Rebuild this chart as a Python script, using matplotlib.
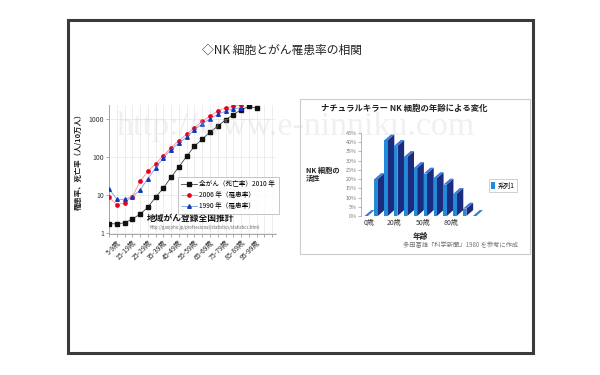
import numpy as np
import matplotlib
matplotlib.use('Agg')
import matplotlib.pyplot as plt
from matplotlib.patches import Rectangle, Polygon, Patch

plt.rcParams['font.family'] = ['Noto Sans CJK JP', 'DejaVu Sans']

# 左のグラフ: 年齢階級別の罹患率・死亡率 (人/10万人)
age_groups = ['0-4歳', '5-9歳', '10-14歳', '15-19歳', '20-24歳', '25-29歳',
              '30-34歳', '35-39歳', '40-44歳', '45-49歳', '50-54歳', '55-59歳',
              '60-64歳', '65-69歳', '70-74歳', '75-79歳', '80-84歳', '85-89歳',
              '90-94歳', '95-99歳']
death_2010 = [1.8, 1.8, 1.9, 2.4, 3.2, 4.9, 8.9, 15.6, 30, 56, 106, 195,
              298, 455, 654, 957, 1320, 1760, 2150, 1950]
inc_2006 = [8.9, 5.7, 6.4, 9.2, 23.4, 43, 67, 111, 180, 275, 403, 591,
            886, 1200, 1620, 1990, 2150, 2380]
inc_1990 = [15, 7.9, 7.9, 9.2, 13.8, 27.5, 52, 98, 159, 233, 336, 524,
            754, 1020, 1330, 1620, 1870, 1990]
series_names = ['全がん（死亡率）2010 年', '2006 年（罹患率）', '1990 年（罹患率）']

# 右のグラフ: NK 細胞の活性 (%)
nk_ages = ['0歳', '5歳', '10歳', '20歳', '30歳', '40歳', '50歳', '60歳',
           '70歳', '80歳', '90歳', '100歳']
nk_activity = [0, 20, 41, 38, 32, 26, 23, 20.5, 17, 12, 4, 0]
nk_tick_labels = ['0歳', '20歳', '50歳', '80歳']


def fx(x):
    return x / 600


def fy(y):
    return 1 - y / 375


fig = plt.figure(figsize=(6, 3.75), dpi=100)

# 外枠
fig.patches.append(Rectangle((fx(68.3), fy(353)), fx(533.3) - fx(68.3), fy(20) - fy(353),
                             transform=fig.transFigure, fill=False,
                             edgecolor='#3a3a3a', linewidth=2.2))
fig.text(fx(282), fy(50), '◇NK 細胞とがん罹患率の相関', ha='center', va='center',
         fontsize=8.5, color='#222222')

# ---- 左のグラフ ----
ax = fig.add_axes([fx(109), fy(234), fx(276) - fx(109), fy(105) - fy(234)])
x = np.arange(len(age_groups))
ax.plot(x, death_2010, color='#444444', lw=0.6, marker='s', ms=2.4,
        mfc='#111111', mec='#111111', label=series_names[0], zorder=3)
ax.plot(x[:len(inc_2006)], inc_2006, color='#ff8a8a', lw=0.6, marker='o', ms=2.4,
        mfc='#e8001c', mec='#e8001c', label=series_names[1], zorder=3)
ax.plot(x[:len(inc_1990)], inc_1990, color='#7d9ce0', lw=0.6, marker='^', ms=2.6,
        mfc='#1238c0', mec='#1238c0', label=series_names[2], zorder=3)
ax.set_yscale('log')
ax.set_ylim(0.97, 2350)
ax.set_xlim(0, 21.5)
ax.set_yticks([1, 10, 100, 1000], ['1', '10', '100', '1000'])
ax.yaxis.set_minor_locator(matplotlib.ticker.NullLocator())
ax.set_xticks(np.arange(22))
ax.set_xticklabels([age_groups[i] if (i < len(age_groups) and i % 2 == 1) else ''
                    for i in range(22)], rotation=45, ha='right',
                   rotation_mode='anchor', fontsize=5, color='#222222')
ax.tick_params(axis='y', labelsize=5, length=2, width=0.5, color='#888888',
               labelcolor='#333333', pad=1.5)
ax.tick_params(axis='x', length=2, width=0.5, color='#888888', pad=1.5)
ax.grid(True, color='#e6e6e6', lw=0.5)
ax.set_axisbelow(True)
for s in ['top', 'right']:
    ax.spines[s].set_visible(False)
for s in ['left', 'bottom']:
    ax.spines[s].set_color('#999999')
    ax.spines[s].set_linewidth(0.6)
leg = ax.legend(loc='upper left', bbox_to_anchor=(0.413, 0.442), fontsize=4.8,
                frameon=True, fancybox=False, edgecolor='#aaaaaa',
                handlelength=2.3, labelspacing=0.45, borderpad=0.5,
                handletextpad=0.4, borderaxespad=0)
leg.get_frame().set_linewidth(0.6)
ax.text(0.49, 0.124, '地域がん登録全国推計', transform=ax.transAxes, ha='center',
        va='center', fontsize=6.3, fontweight='bold', color='#111111')
ax.text(0.57, 0.047, 'http://ganjoho.jp/professional/statistics/statistics.html',
        transform=ax.transAxes, ha='center', va='center', fontsize=3.1,
        color='#666666')
fig.text(fx(78), fy(160), '罹患率、死亡率（人/10万人）', rotation=90, ha='center',
         va='center', fontsize=5.3, fontweight='bold', color='#222222')

# ---- 右のグラフ ----
fig.patches.append(Rectangle((fx(300), fy(254)), fx(530) - fx(300), fy(99) - fy(254),
                             transform=fig.transFigure, fill=False,
                             edgecolor='#cccccc', linewidth=0.8))
fig.text(fx(404), fy(108), 'ナチュラルキラー NK 細胞の年齢による変化', ha='center',
         va='center', fontsize=6, fontweight='bold', color='#222222')

bx = fig.add_axes([fx(361), fy(216), fx(489.7) - fx(361), fy(133) - fy(216)])
bx.set_xlim(-0.86, 12.2)
bx.set_ylim(0, 45)
w, dx, dy = 0.34, 0.68, 3.2
front_c, side_c, top_c = '#238ad8', '#1b2c7e', '#3a78d4'
pos = np.arange(len(nk_ages)) - 0.5
bx.bar(pos, nk_activity, width=w, align='edge', color=front_c, zorder=3,
       clip_on=False)
for x0, v in zip(pos, nk_activity):
    x1 = x0 + w
    if v > 0:
        bx.add_patch(Polygon([(x1, 0), (x1 + dx, dy), (x1 + dx, v + dy), (x1, v)],
                             closed=True, facecolor=side_c, edgecolor='none',
                             zorder=2, clip_on=False))
    bx.add_patch(Polygon([(x0, v), (x1, v), (x1 + dx, v + dy), (x0 + dx, v + dy)],
                         closed=True, facecolor=top_c, edgecolor='none',
                         zorder=4, clip_on=False))
bx.set_yticks(np.arange(0, 46, 5), [f'{t}%' for t in range(0, 46, 5)])
bx.set_xticks([0, 2.5, 5.4, 8.3], nk_tick_labels)
bx.tick_params(axis='y', labelsize=3.9, length=2, width=0.5, color='#999999',
               labelcolor='#777777', pad=1)
bx.tick_params(axis='x', labelsize=5, length=0, labelcolor='#333333', pad=2.5)
for s in ['top', 'right', 'bottom']:
    bx.spines[s].set_visible(False)
bx.spines['left'].set_color('#aaaaaa')
bx.spines['left'].set_linewidth(0.6)
bx.patch.set_alpha(0)

leg2 = bx.legend(handles=[Patch(facecolor=front_c)], labels=['系列1'],
                 loc='upper left', bbox_to_anchor=(fx(489), fy(179.5)),
                 bbox_transform=fig.transFigure, fontsize=4.8, frameon=True,
                 fancybox=False, edgecolor='#bbbbbb', handlelength=0.6,
                 handleheight=1.1, handletextpad=0.3, borderpad=0.35,
                 borderaxespad=0)
leg2.get_frame().set_linewidth(0.6)

fig.text(fx(306), fy(174), 'NK 細胞の\n活性', ha='left', va='center',
         fontsize=5.2, fontweight='bold', color='#222222', linespacing=1.15)
fig.text(fx(420), fy(236), '年齢', ha='center', va='center', fontsize=5.5,
         fontweight='bold', color='#222222')
fig.text(fx(461), fy(245), '多田富雄「科学新聞」1980 を参考に作成', ha='center',
         va='center', fontsize=4.5, color='#777777')

# 透かし
fig.text(fx(296), fy(135), 'http://www.e-ninniku.com', ha='center', va='baseline',
         fontsize=24.5, family=['Liberation Serif', 'DejaVu Serif'],
         color='#cfcfcf', alpha=0.3, zorder=10)

fig.savefig('out.png', dpi=100, facecolor='white')
